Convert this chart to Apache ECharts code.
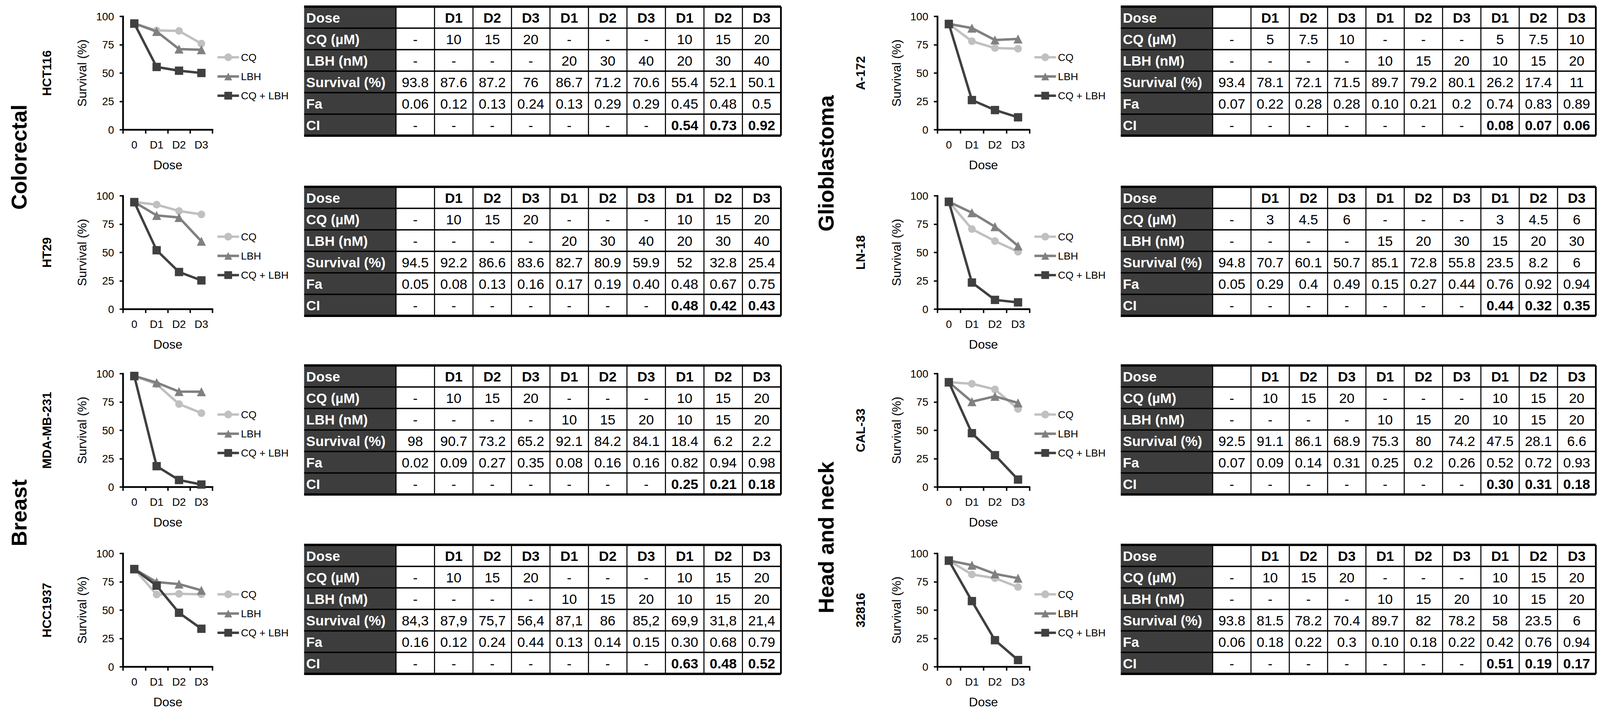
<!DOCTYPE html>
<html>
<head>
<meta charset="utf-8">
<script src="https://cdn.jsdelivr.net/npm/echarts@6/dist/echarts.min.js"></script>
<style>
  html, body { margin: 0; padding: 0; background: #fff; overflow: hidden; }
  #main { width: 100vw; height: 100vh; }
</style>
</head>
<body>
<div id="main"></div>
<script>
// x categories of every small line chart
var doses = ['0', 'D1', 'D2', 'D3'];
var seriesNames = ['CQ', 'LBH', 'CQ + LBH'];
var rowLabels = ['Dose', 'CQ (µM)', 'LBH (nM)', 'Survival (%)', 'Fa', 'CI'];
var doseRow = ['', 'D1', 'D2', 'D3', 'D1', 'D2', 'D3', 'D1', 'D2', 'D3'];
var ciEmpty = ['-', '-', '-', '-', '-', '-', '-'];

// ---- HCT116 ----
var hct116Cq   = ['-', '10', '15', '20', '-', '-', '-', '10', '15', '20'];
var hct116Lbh  = ['-', '-', '-', '-', '20', '30', '40', '20', '30', '40'];
var hct116Surv = ['93.8', '87.6', '87.2', '76', '86.7', '71.2', '70.6', '55.4', '52.1', '50.1'];
var hct116Fa   = ['0.06', '0.12', '0.13', '0.24', '0.13', '0.29', '0.29', '0.45', '0.48', '0.5'];
var hct116Ci   = ['0.54', '0.73', '0.92'];
var hct116CqLine    = [93.8, 87.6, 87.2, 76];
var hct116LbhLine   = [93.8, 86.7, 71.2, 70.6];
var hct116ComboLine = [93.8, 55.4, 52.1, 50.1];

// ---- HT29 ----
var ht29Cq   = ['-', '10', '15', '20', '-', '-', '-', '10', '15', '20'];
var ht29Lbh  = ['-', '-', '-', '-', '20', '30', '40', '20', '30', '40'];
var ht29Surv = ['94.5', '92.2', '86.6', '83.6', '82.7', '80.9', '59.9', '52', '32.8', '25.4'];
var ht29Fa   = ['0.05', '0.08', '0.13', '0.16', '0.17', '0.19', '0.40', '0.48', '0.67', '0.75'];
var ht29Ci   = ['0.48', '0.42', '0.43'];
var ht29CqLine    = [94.5, 92.2, 86.6, 83.6];
var ht29LbhLine   = [94.5, 82.7, 80.9, 59.9];
var ht29ComboLine = [94.5, 52, 32.8, 25.4];

// ---- MDA-MB-231 ----
var mdaCq   = ['-', '10', '15', '20', '-', '-', '-', '10', '15', '20'];
var mdaLbh  = ['-', '-', '-', '-', '10', '15', '20', '10', '15', '20'];
var mdaSurv = ['98', '90.7', '73.2', '65.2', '92.1', '84.2', '84.1', '18.4', '6.2', '2.2'];
var mdaFa   = ['0.02', '0.09', '0.27', '0.35', '0.08', '0.16', '0.16', '0.82', '0.94', '0.98'];
var mdaCi   = ['0.25', '0.21', '0.18'];
var mdaCqLine    = [98, 90.7, 73.2, 65.2];
var mdaLbhLine   = [98, 92.1, 84.2, 84.1];
var mdaComboLine = [98, 18.4, 6.2, 2.2];

// ---- HCC1937 (plotted points differ from the table) ----
var hccCq   = ['-', '10', '15', '20', '-', '-', '-', '10', '15', '20'];
var hccLbh  = ['-', '-', '-', '-', '10', '15', '20', '10', '15', '20'];
var hccSurv = ['84,3', '87,9', '75,7', '56,4', '87,1', '86', '85,2', '69,9', '31,8', '21,4'];
var hccFa   = ['0.16', '0.12', '0.24', '0.44', '0.13', '0.14', '0.15', '0.30', '0.68', '0.79'];
var hccCi   = ['0.63', '0.48', '0.52'];
var hccCqLine    = [86.3, 63.8, 64.4, 64];
var hccLbhLine   = [86.3, 74.8, 73, 67.5];
var hccComboLine = [86.3, 71.6, 47.7, 33.6];

// ---- A-172 ----
var a172Cq   = ['-', '5', '7.5', '10', '-', '-', '-', '5', '7.5', '10'];
var a172Lbh  = ['-', '-', '-', '-', '10', '15', '20', '10', '15', '20'];
var a172Surv = ['93.4', '78.1', '72.1', '71.5', '89.7', '79.2', '80.1', '26.2', '17.4', '11'];
var a172Fa   = ['0.07', '0.22', '0.28', '0.28', '0.10', '0.21', '0.2', '0.74', '0.83', '0.89'];
var a172Ci   = ['0.08', '0.07', '0.06'];
var a172CqLine    = [93.4, 78.1, 72.1, 71.5];
var a172LbhLine   = [93.4, 89.7, 79.2, 80.1];
var a172ComboLine = [93.4, 26.2, 17.4, 11];

// ---- LN-18 ----
var ln18Cq   = ['-', '3', '4.5', '6', '-', '-', '-', '3', '4.5', '6'];
var ln18Lbh  = ['-', '-', '-', '-', '15', '20', '30', '15', '20', '30'];
var ln18Surv = ['94.8', '70.7', '60.1', '50.7', '85.1', '72.8', '55.8', '23.5', '8.2', '6'];
var ln18Fa   = ['0.05', '0.29', '0.4', '0.49', '0.15', '0.27', '0.44', '0.76', '0.92', '0.94'];
var ln18Ci   = ['0.44', '0.32', '0.35'];
var ln18CqLine    = [94.8, 70.7, 60.1, 50.7];
var ln18LbhLine   = [94.8, 85.1, 72.8, 55.8];
var ln18ComboLine = [94.8, 23.5, 8.2, 6];

// ---- CAL-33 ----
var cal33Cq   = ['-', '10', '15', '20', '-', '-', '-', '10', '15', '20'];
var cal33Lbh  = ['-', '-', '-', '-', '10', '15', '20', '10', '15', '20'];
var cal33Surv = ['92.5', '91.1', '86.1', '68.9', '75.3', '80', '74.2', '47.5', '28.1', '6.6'];
var cal33Fa   = ['0.07', '0.09', '0.14', '0.31', '0.25', '0.2', '0.26', '0.52', '0.72', '0.93'];
var cal33Ci   = ['0.30', '0.31', '0.18'];
var cal33CqLine    = [92.5, 91.1, 86.1, 68.9];
var cal33LbhLine   = [92.5, 75.3, 80, 74.2];
var cal33ComboLine = [92.5, 47.5, 28.1, 6.6];

// ---- 32816 ----
var c32816Cq   = ['-', '10', '15', '20', '-', '-', '-', '10', '15', '20'];
var c32816Lbh  = ['-', '-', '-', '-', '10', '15', '20', '10', '15', '20'];
var c32816Surv = ['93.8', '81.5', '78.2', '70.4', '89.7', '82', '78.2', '58', '23.5', '6'];
var c32816Fa   = ['0.06', '0.18', '0.22', '0.3', '0.10', '0.18', '0.22', '0.42', '0.76', '0.94'];
var c32816Ci   = ['0.51', '0.19', '0.17'];
var c32816CqLine    = [93.8, 81.5, 78.2, 70.4];
var c32816LbhLine   = [93.8, 89.7, 82, 78.2];
var c32816ComboLine = [93.8, 58, 23.5, 6];

var groups = [
  { text: 'Colorectal', col: 0, y: 402 },
  { text: 'Breast', col: 0, y: 1312 },
  { text: 'Glioblastoma', col: 1, y: 418 },
  { text: 'Head and neck', col: 1, y: 1375 }
];

var panels = [
  { name: 'HCT116', col: 0, row: 0, cq: hct116Cq, lbh: hct116Lbh, surv: hct116Surv, fa: hct116Fa, ci: hct116Ci, lines: [hct116CqLine, hct116LbhLine, hct116ComboLine] },
  { name: 'HT29', col: 0, row: 1, cq: ht29Cq, lbh: ht29Lbh, surv: ht29Surv, fa: ht29Fa, ci: ht29Ci, lines: [ht29CqLine, ht29LbhLine, ht29ComboLine] },
  { name: 'MDA-MB-231', col: 0, row: 2, cq: mdaCq, lbh: mdaLbh, surv: mdaSurv, fa: mdaFa, ci: mdaCi, lines: [mdaCqLine, mdaLbhLine, mdaComboLine] },
  { name: 'HCC1937', col: 0, row: 3, cq: hccCq, lbh: hccLbh, surv: hccSurv, fa: hccFa, ci: hccCi, lines: [hccCqLine, hccLbhLine, hccComboLine] },
  { name: 'A-172', col: 1, row: 0, cq: a172Cq, lbh: a172Lbh, surv: a172Surv, fa: a172Fa, ci: a172Ci, lines: [a172CqLine, a172LbhLine, a172ComboLine] },
  { name: 'LN-18', col: 1, row: 1, cq: ln18Cq, lbh: ln18Lbh, surv: ln18Surv, fa: ln18Fa, ci: ln18Ci, lines: [ln18CqLine, ln18LbhLine, ln18ComboLine] },
  { name: 'CAL-33', col: 1, row: 2, cq: cal33Cq, lbh: cal33Lbh, surv: cal33Surv, fa: cal33Fa, ci: cal33Ci, lines: [cal33CqLine, cal33LbhLine, cal33ComboLine] },
  { name: '32816', col: 1, row: 3, cq: c32816Cq, lbh: c32816Lbh, surv: c32816Surv, fa: c32816Fa, ci: c32816Ci, lines: [c32816CqLine, c32816LbhLine, c32816ComboLine] }
];

// layout, designed on a 4614 x 1819 frame and scaled to the real viewport
var FONT = 'Liberation Sans, Arial, Helvetica, sans-serif';
var dom = document.getElementById('main');
var vw = dom.clientWidth || 4614, vh = dom.clientHeight || 1819;
var sx = vw / 4614, sy = vh / 1819, sf = Math.min(sx, sy);
function X(v) { return v * sx; }
function Y(v) { return v * sy; }
function S(v) { return v * sf; }

var plotTop = [42, 501, 956, 1416];
var tableTop = [17, 478, 935, 1394];
var plotH = 290;
var rowH = 55;
var cols = [
  { axisX: 355, plotW: 258, cellLabelX: 135, groupX: 55, tableX: 877, labW: 265, cellW: 111 },
  { axisX: 2703, plotW: 266, cellLabelX: 2482, groupX: 2382, tableX: 3232, labW: 265, cellW: 110.5 }
];
var lineColors = ['#c0c0c0', '#808080', '#404040'];
var symbols = ['circle', 'triangle', 'rect'];
var symbolSizes = [22, 26, 24];

var myChart = echarts.init(dom, null, { renderer: 'svg' });

var grids = [], xAxes = [], yAxes = [], series = [], legends = [], graphics = [];

function txt(x, y, s, font, fill, align, rot) {
  return {
    type: 'text', x: x, y: y, rotation: rot || 0, silent: true,
    style: { text: s, font: font, fill: fill, align: align || 'center', verticalAlign: 'middle',
             textAlign: align || 'center', textVerticalAlign: 'middle' }
  };
}
function ln(x1, y1, x2, y2, w) {
  return { type: 'line', silent: true, shape: { x1: x1, y1: y1, x2: x2, y2: y2 }, style: { stroke: '#000', lineWidth: w } };
}

function addTable(p) {
  var c = cols[p.col];
  var x0 = X(c.tableX), y0 = Y(tableTop[p.row]);
  var labW = X(c.labW), cellW = X(c.cellW), rh = Y(rowH);
  var W = labW + cellW * 10, H = rh * 6;
  graphics.push({ type: 'rect', silent: true, shape: { x: x0, y: y0, width: labW, height: H }, style: { fill: '#3d3d3d' } });
  var rows = [doseRow, p.cq, p.lbh, p.surv, p.fa, ciEmpty.concat(p.ci)];
  rows.forEach(function (cells, ri) {
    var cy = y0 + ri * rh + rh / 2 + S(2);
    graphics.push(txt(x0 + X(6), cy, rowLabels[ri], 'bold ' + S(40) + 'px ' + FONT, '#fff', 'left'));
    cells.forEach(function (v, ci) {
      var bold = ri === 0 || (ri === 5 && ci >= 7);
      graphics.push(txt(x0 + labW + cellW * (ci + 0.5), cy, v, (bold ? 'bold ' : '') + S(40) + 'px ' + FONT, '#000'));
    });
  });
  for (var k = 0; k <= 6; k++) {
    var w = (k === 0 || k === 6) ? 7 : 4;
    graphics.push(ln(x0, y0 + k * rh, x0 + W, y0 + k * rh, S(w)));
  }
  for (var j = 0; j <= 10; j++) {
    var xx = x0 + labW + cellW * j;
    graphics.push(ln(xx, y0, xx, y0 + H, S(j === 10 ? 5 : 3)));
  }
}

panels.forEach(function (p, i) {
  var c = cols[p.col];
  var top = plotTop[p.row];
  grids.push({ left: X(c.axisX), top: Y(top), width: X(c.plotW), height: Y(plotH), containLabel: false });
  xAxes.push({
    type: 'category', gridIndex: i, data: doses, boundaryGap: true,
    name: 'Dose', nameLocation: 'middle', nameGap: Y(74),
    nameTextStyle: { fontSize: S(36), color: '#000', fontFamily: FONT },
    axisLine: { lineStyle: { color: '#000', width: S(5) } },
    axisTick: { show: true, interval: 0, length: S(11), lineStyle: { color: '#000', width: S(4) } },
    axisLabel: { fontSize: S(31), color: '#000', fontFamily: FONT, margin: Y(24), interval: 0 },
    splitLine: { show: false }
  });
  yAxes.push({
    type: 'value', gridIndex: i, min: 0, max: 100, interval: 25,
    name: 'Survival (%)', nameLocation: 'middle', nameGap: X(100),
    nameTextStyle: { fontSize: S(36), color: '#000', fontFamily: FONT },
    axisLine: { show: true, lineStyle: { color: '#000', width: S(5) } },
    axisTick: { show: true, length: S(10), lineStyle: { color: '#000', width: S(4) } },
    axisLabel: { fontSize: S(31), color: '#000', fontFamily: FONT, margin: X(26) },
    splitLine: { show: false }
  });
  seriesNames.forEach(function (sn, k) {
    series.push({
      name: sn, type: 'line', xAxisIndex: i, yAxisIndex: i,
      data: p.lines[k], symbol: symbols[k], symbolSize: S(symbolSizes[k]),
      showAllSymbol: true, z: 2 + k,
      lineStyle: { color: lineColors[k], width: S(7) },
      itemStyle: { color: lineColors[k] }
    });
  });
  legends.push({
    data: seriesNames, orient: 'vertical', left: X(c.axisX + c.plotW + 5), top: Y(top + 86),
    itemWidth: X(62), itemHeight: S(28), itemGap: Y(47) - S(28), selectedMode: false,
    textStyle: { fontSize: S(30), color: '#000', fontFamily: FONT },
    lineStyle: { width: 'inherit' }
  });
  graphics.push(txt(X(c.cellLabelX), Y(top + plotH / 2), p.name, 'bold ' + S(36) + 'px ' + FONT, '#000', 'center', Math.PI / 2));
  addTable(p);
});

groups.forEach(function (g) {
  graphics.push(txt(X(cols[g.col].groupX), Y(g.y), g.text, 'bold ' + S(62) + 'px ' + FONT, '#000', 'center', Math.PI / 2));
});

var option = {
  animation: false,
  backgroundColor: '#fff',
  grid: grids,
  xAxis: xAxes,
  yAxis: yAxes,
  legend: legends,
  series: series,
  graphic: { elements: graphics }
};

myChart.setOption(option);
</script>
</body>
</html>
